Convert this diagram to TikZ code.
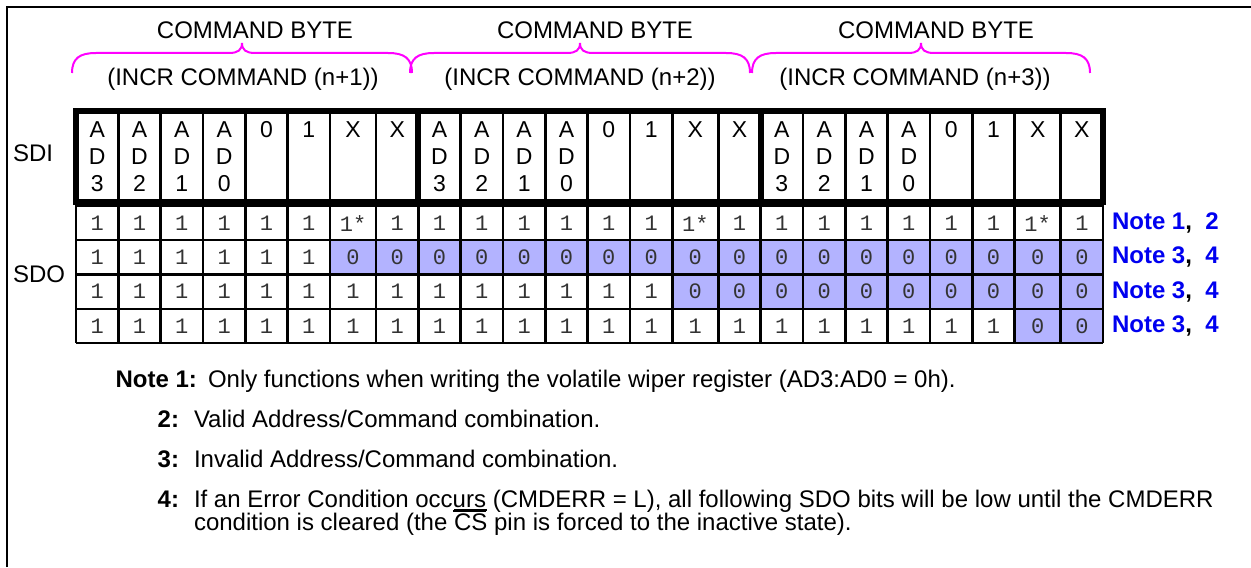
\documentclass[tikz,border=0pt]{standalone}
\usepackage{fontspec}
\setmainfont{Liberation Sans}
\setmonofont{Liberation Mono}
\definecolor{zfill}{RGB}{179,179,255}
\definecolor{brc}{RGB}{255,0,255}
\definecolor{nblue}{RGB}{0,0,240}
\newcommand\ovlbar[1]{\vbox{\hrule height 0.9pt\kern 1.3pt\hbox{#1}}}
\newcommand\unlbar[1]{\vtop{\hbox{#1}\kern 1.6pt\hrule height 0.9pt}}
\begin{document}
\begin{tikzpicture}[x=0.5pt,y=-0.5pt,
  every node/.style={inner sep=0pt,outer sep=0pt},
  toplbl/.style={font=\fontsize{12}{14}\selectfont,anchor=base},
  sdilbl/.style={font=\fontsize{11.5}{13}\selectfont,anchor=base},
  bit/.style={font=\ttfamily\fontsize{11}{13}\selectfont,text=black!80},
  sig/.style={font=\fontsize{12}{14}\selectfont,anchor=base west},
  rnote/.style={font=\bfseries\fontsize{12}{14}\selectfont,text=nblue,anchor=base west},
  notelbl/.style={font=\bfseries\fontsize{12}{14}\selectfont,anchor=base east},
  notetxt/.style={font=\fontsize{12}{14}\selectfont,anchor=base west},
  gridln/.style={line width=1.2pt},
  boxln/.style={line width=3pt},
  bracestyle/.style={draw=brc,line width=1pt}
]
\useasboundingbox (0,0) rectangle (1251,567);
\fill[white] (0,0) rectangle (1251,567);
% outer frame (left and top)
\draw[line width=1.25pt] (7,567) -- (7,7) -- (1251,7);

% headers
\node[toplbl] (cb1) at (255,39) {COMMAND BYTE};
\node[toplbl] (cb2) at (595,39) {COMMAND BYTE};
\node[toplbl] (cb3) at (936,39) {COMMAND BYTE};
\node[toplbl] (ic1) at (243,86) {(INCR COMMAND (n+1))};
\node[toplbl] (ic2) at (580,86) {(INCR COMMAND (n+2))};
\node[toplbl] (ic3) at (915,86) {(INCR COMMAND (n+3))};

% braces
\foreach \a/\b/\m in {72/412/242, 410/750/580, 752/1090/921}{
  \draw[bracestyle] (\a,73) .. controls (\a,58) and (\a+8,53) .. (\a+24,53)
    -- (\m-13,53) .. controls (\m-4,53) and (\m,50) .. (\m,43)
    .. controls (\m,50) and (\m+4,53) .. (\m+13,53)
    -- (\b-24,53) .. controls (\b-8,53) and (\b,58) .. (\b,73);
}

% signal labels
\node[sig] (sdi) at (13,161) {SDI};
\node[sig] (sdo) at (13,282.5) {SDO};

% shading of SDO cells
\foreach \l/\r [count=\i] in {76/118.33,118.33/160.67,160.67/203,203/245.33,245.33/287.67,287.67/330,330/376,376/418.33,418.33/460.67,460.67/503,503/545.33,545.33/587.67,587.67/630,630/672.33,672.33/718.33,718.33/760.67,760.67/803,803/845.33,845.33/887.67,887.67/930,930/972.33,972.33/1014.67,1014.67/1060.67,1060.67/1103}{
  \ifnum\i>6 \fill[zfill] (\l,240.25) rectangle (\r,274.5); \fi
  \ifnum\i>14 \fill[zfill] (\l,274.5) rectangle (\r,308.75); \fi
  \ifnum\i>22 \fill[zfill] (\l,308.75) rectangle (\r,343); \fi
}

% SDO bits
\foreach \l/\r [count=\i] in {76/118.33,118.33/160.67,160.67/203,203/245.33,245.33/287.67,287.67/330,330/376,376/418.33,418.33/460.67,460.67/503,503/545.33,545.33/587.67,587.67/630,630/672.33,672.33/718.33,718.33/760.67,760.67/803,803/845.33,845.33/887.67,887.67/930,930/972.33,972.33/1014.67,1014.67/1060.67,1060.67/1103}{
  \pgfmathsetmacro\xc{(\l+\r)/2}
  \ifnum\i=7 \def\ta{1*}\else\ifnum\i=15 \def\ta{1*}\else\ifnum\i=23 \def\ta{1*}\else\def\ta{1}\fi\fi\fi
  \ifnum\i>6 \def\tb{0}\else\def\tb{1}\fi
  \ifnum\i>14 \def\tc{0}\else\def\tc{1}\fi
  \ifnum\i>22 \def\td{0}\else\def\td{1}\fi
  \node[bit] (pa\i) at (\xc,223.1) {\ta};
  \node[bit] (pb\i) at (\xc,257.4) {\tb};
  \node[bit] (pc\i) at (\xc,291.6) {\tc};
  \node[bit] (pd\i) at (\xc,325.9) {\td};
}

% SDI contents
\foreach \s [count=\b] in {76,418.33,760.67}{
  \foreach \o/\d [count=\c] in {21.17/3,63.5/2,105.83/1,148.17/0}{
    \node[sdilbl] (sa\b\c) at (\s+\o,137) {A};
    \node[sdilbl] (sd\b\c) at (\s+\o,164) {D};
    \node[sdilbl] (sn\b\c) at (\s+\o,191) {\d};
  }
  \foreach \o/\t [count=\c from 5] in {190.5/0,232.83/1,277/X,321.17/X}{
    \node[sdilbl] (st\b\c) at (\s+\o,137) {\t};
  }
}

% SDO grid
\foreach \y in {206,240.25,274.5,308.75,343}{
  \draw[gridln] (76,\y) -- (1103,\y);
}
\foreach \x in {76,118.33,160.67,203,245.33,287.67,330,376,418.33,460.67,503,545.33,587.67,630,672.33,718.33,760.67,803,845.33,887.67,930,972.33,1014.67,1060.67,1103}{
  \draw[gridln] (\x,202) -- (\x,343);
}
% SDI inner thin lines
\foreach \x in {118.33,160.67,203,245.33,287.67,330,376,460.67,503,545.33,587.67,630,672.33,718.33,803,845.33,887.67,930,972.33,1014.67,1060.67}{
  \draw[gridln] (\x,111) -- (\x,202);
}
% SDI thick box
\draw[boxln,line join=miter] (76,111) rectangle (1103,202);
\draw[boxln] (418.33,111) -- (418.33,202);
\draw[boxln] (760.67,111) -- (760.67,202);

% right-hand notes
\node[rnote] (rn1) at (1112,229.6) {Note 1\textcolor{black}{,}~~2};
\node[rnote] (rn2) at (1112,263.9) {Note 3\textcolor{black}{,}~~4};
\node[rnote] (rn3) at (1112,298.1) {Note 3\textcolor{black}{,}~~4};
\node[rnote] (rn4) at (1112,332.4) {Note 3\textcolor{black}{,}~~4};

% notes
\node[notelbl] (l1) at (197,387) {Note 1:};
\node[notetxt] (t1) at (208,387) {Only functions when writing the volatile wiper register (AD3:AD0 = 0h).};
\node[notelbl] (l2) at (179,427) {2:};
\node[notetxt] (t2) at (194,427) {Valid Address/Command combination.};
\node[notelbl] (l3) at (179,467) {3:};
\node[notetxt] (t3) at (194,467) {Invalid Address/Command combination.};
\node[notelbl] (l4) at (179,507) {4:};
\node[notetxt] (t4) at (194,507) {If an Error Condition occ\unlbar{urs} (CMDERR = L), all following SDO bits will be low until the CMDERR};
\node[notetxt] (t5) at (194,530) {condition is cleared (the \ovlbar{CS} pin is forced to the inactive state).};
\end{tikzpicture}
\end{document}
